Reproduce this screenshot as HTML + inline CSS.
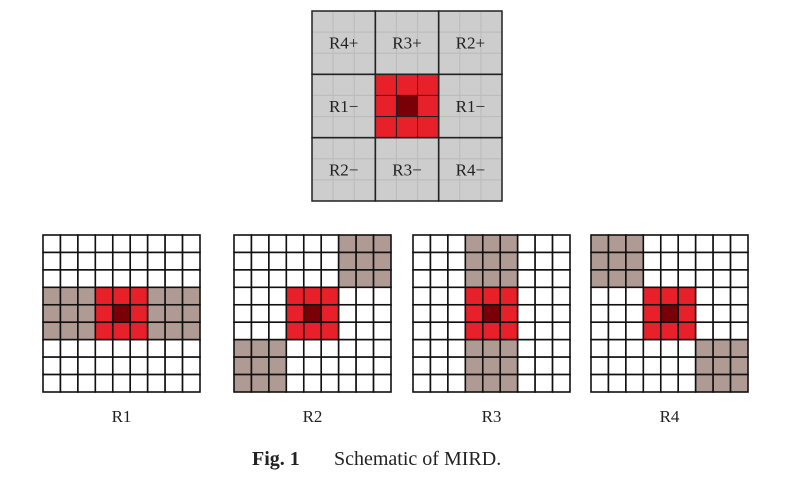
<!DOCTYPE html>
<html><head><meta charset="utf-8"><style>
html,body{margin:0;padding:0;background:#fff;width:806px;height:481px;overflow:hidden}
svg text{font-family:"Liberation Serif",serif;fill:#222}
</style></head><body>
<svg id="fig" width="806" height="481" viewBox="0 0 806 481">
<g id="topg"></g>
<g id="bottom"></g>
<text x="252" y="465" font-size="20" font-weight="bold">Fig. 1</text>
<text x="334" y="465" font-size="20">Schematic of MIRD.</text>
</svg>
<script>
const NS='http://www.w3.org/2000/svg';
const topLabels=['R4+','R3+','R2+','R1−','','R1−','R2−','R3−','R4−'];
const panelNames=['R1','R2','R3','R4'];
const panelX=[43,234,413,591];
// shaded neighbor blocks per panel: [blockRow, blockCol] in 3x3 block grid
const panelBlocks=[[[1,0],[1,2]],[[0,2],[2,0]],[[0,1],[2,1]],[[0,0],[2,2]]];
function mk(tag,attrs,parent){const e=document.createElementNS(NS,tag);for(const k in attrs)e.setAttribute(k,attrs[k]);parent.appendChild(e);return e;}
const topG=document.getElementById('topg');
const TX=312,TY=11,TS=190,B=TS/3;
const bg=mk('rect',{x:TX,y:TY,width:TS,height:TS,fill:'#cdcdcd'},topG);


for(let i=1;i<9;i++){
 const a=TX+i*TS/9,b=TY+i*TS/9;
 mk('line',{x1:a,y1:TY,x2:a,y2:TY+TS,stroke:'#bdbdbd','stroke-width':1.2},topG);
 mk('line',{x1:TX,y1:b,x2:TX+TS,y2:b,stroke:'#bdbdbd','stroke-width':1.2},topG);
}
for(let r=0;r<3;r++)for(let c=0;c<3;c++){
 const idx=r*3+c;
 const x=TX+c*B,y=TY+r*B;
 if(idx===4){
  for(let i=0;i<3;i++)for(let j=0;j<3;j++){
   const cell=mk('rect',{x:x+j*B/3,y:y+i*B/3,width:B/3,height:B/3,fill:(i==1&&j==1)?'#7a0008':'#e8202a',stroke:'#222','stroke-width':1},topG);
   
   
  }
 }
 const rc=mk('rect',{x:x,y:y,width:B,height:B,fill:'none',stroke:'#222','stroke-width':1.5},topG);
 
 
 if(topLabels[idx]){
  const t=mk('text',{x:x+B/2,y:y+B/2+6,'font-size':17,'text-anchor':'middle'},topG);
  t.textContent=topLabels[idx];
  
  
 }
}
const bot=document.getElementById('bottom');
const GY=235,GS=157,C=GS/9;
panelNames.forEach((name,p)=>{
 const gx=panelX[p];
 const g=mk('g',{},bot);
 
 
 for(let i=0;i<9;i++)for(let j=0;j<9;j++){
  const br=Math.floor(i/3),bc=Math.floor(j/3);
  let fill='#fff';
  if(br==1&&bc==1)fill=(i==4&&j==4)?'#7a0008':'#e8202a';
  else if(panelBlocks[p].some(b=>b[0]==br&&b[1]==bc))fill='#b09a94';
  const cell=mk('rect',{x:gx+j*C,y:GY+i*C,width:C,height:C,fill:fill,stroke:'#111','stroke-width':1.6},g);
  
  
 }
 const t=mk('text',{x:gx+GS/2,y:422,'font-size':17,'text-anchor':'middle'},g);
 t.textContent=name;
 
 
});
</script>
</body></html>
